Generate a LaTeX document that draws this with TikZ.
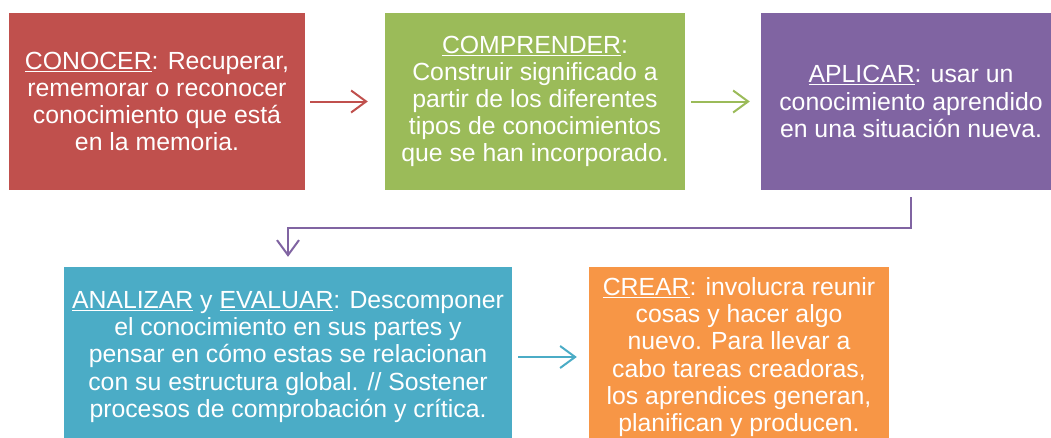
\documentclass[tikz,border=0pt]{standalone}
\usepackage{fontspec}
\setmainfont{Liberation Sans}
\usetikzlibrary{arrows.meta}
\definecolor{cred}{HTML}{C0504D}
\definecolor{cgreen}{HTML}{9BBB59}
\definecolor{cpurple}{HTML}{8064A2}
\definecolor{ccyan}{HTML}{4BACC6}
\definecolor{corange}{HTML}{F79646}
\newcommand{\kw}[1]{\underline{#1}}
\begin{document}
\begin{tikzpicture}[x=1pt,y=-1pt,
  box/.style={fill=#1, text=white, inner sep=0pt, align=center,
    font=\fontsize{24.8}{27.2}\selectfont},
  conn/.style={draw=#1, line width=2pt, -{Straight Barb[length=15pt,width=22pt,line width=2pt]}}]
\useasboundingbox (0,0) rectangle (1051,437);
\node[box=cred, minimum width=296pt, minimum height=177pt] (b1) at (157,101.5)
  {\kw{CONOCER}: Recuperar,\\rememorar o reconocer\\conocimiento que está\\en la memoria.};
\node[box=cgreen, minimum width=300pt, minimum height=177pt] (b2) at (535,101.5)
  {\kw{COMPRENDER}:\\Construir significado a\\partir de los diferentes\\tipos de conocimientos\\que se han incorporado.};
\node[box=cpurple, minimum width=300pt, minimum height=177pt] (b3) at (911,101.5)
  {\kw{APLICAR}: usar un\\conocimiento aprendido\\en una situación nueva.};
\node[box=ccyan, minimum width=448pt, minimum height=180pt] (b4) at (288,357)
  {\kw{ANALIZAR} y \kw{EVALUAR}: Descomponer\\el conocimiento en sus partes y\\pensar en cómo estas se relacionan\\con su estructura global. // Sostener\\procesos de comprobación y crítica.};
\node[box=corange, minimum width=300pt, minimum height=180pt] (b5) at (739,357)
  {\kw{CREAR}: involucra reunir\\cosas y hacer algo\\nuevo. Para llevar a\\cabo tareas creadoras,\\los aprendices generan,\\planifican y producen.};
\coordinate (m) at (0,228);
\draw[conn=cred, shorten <=5pt, shorten >=17pt] (b1.east) -- (b2.west);
\draw[conn=cgreen, shorten <=6pt, shorten >=11pt] (b2.east) -- (b3.west);
\draw[conn=cpurple, shorten <=7pt, shorten >=10pt] (b3.south) -- (b3.south |- m) -| (b4.north);
\draw[conn=ccyan, shorten <=6pt, shorten >=12pt] (b4.east) -- (b5.west);
\end{tikzpicture}
\end{document}
